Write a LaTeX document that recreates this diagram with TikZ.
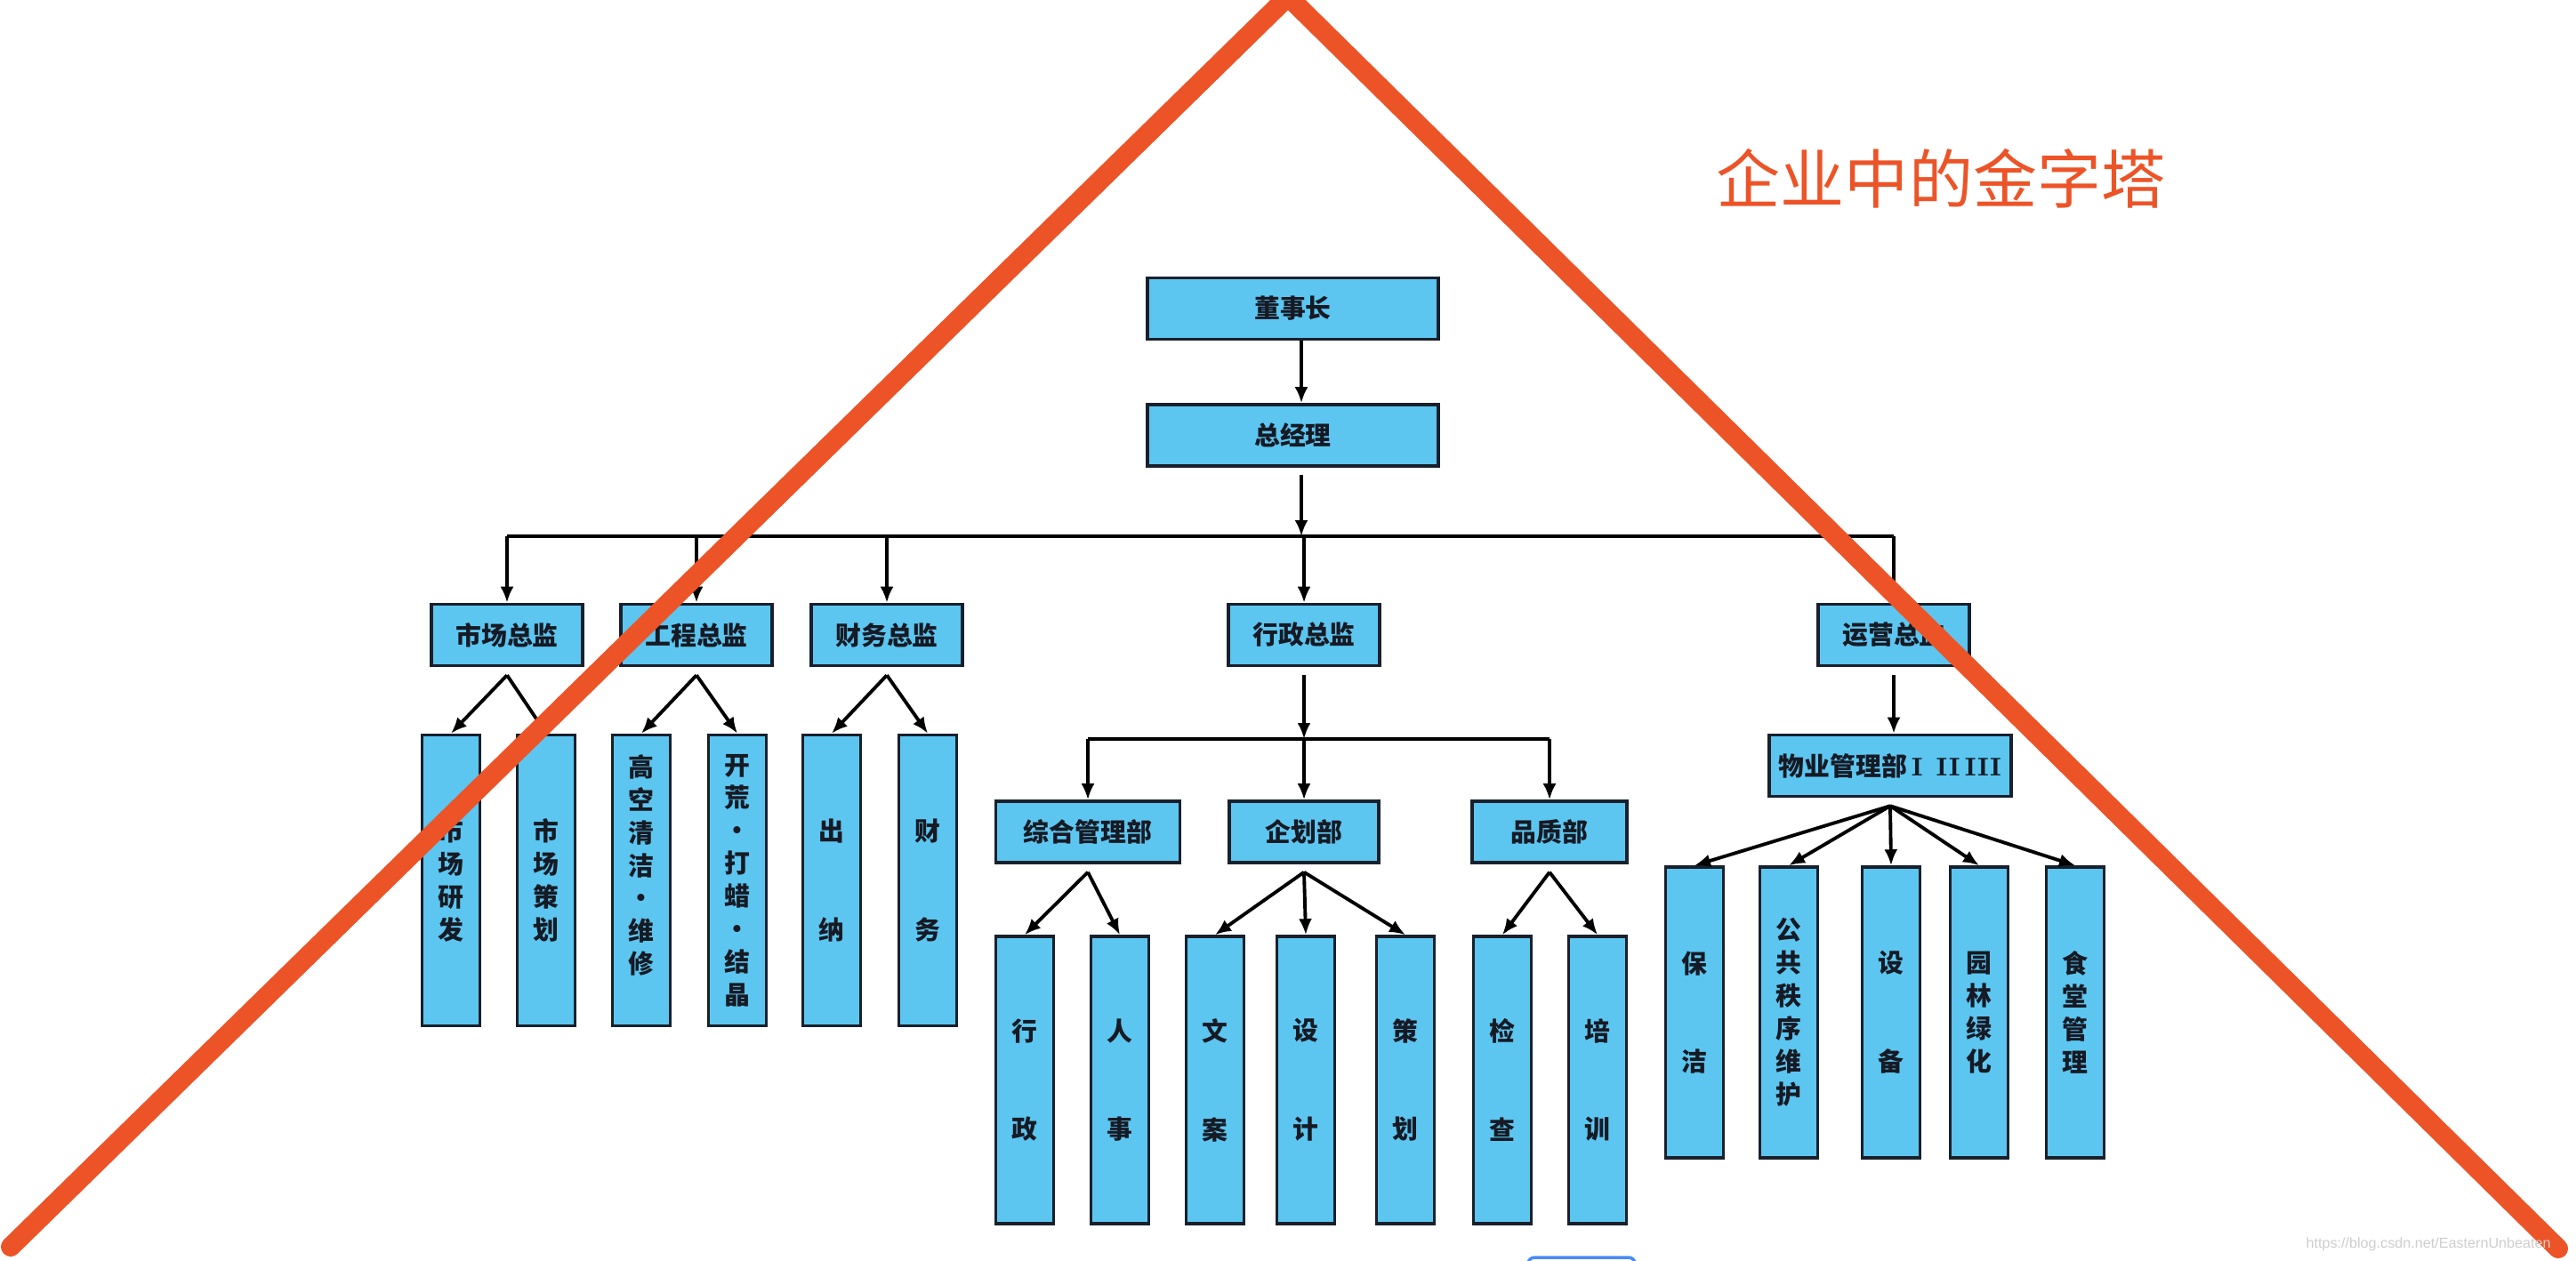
\documentclass[tikz,border=0pt]{standalone}
\usepackage{fontspec}
\usepackage{tikz}
\usetikzlibrary{arrows.meta, positioning, calc}
\newfontfamily\cjk{Noto Sans CJK SC}
\newfontfamily\wmfont{Liberation Sans}
\definecolor{orgbleu}{RGB}{92,198,240}
\definecolor{orgtrait}{RGB}{24,32,44}
\definecolor{orgtexte}{RGB}{22,26,36}
\definecolor{pyrrouge}{RGB}{236,84,40}
\definecolor{wmgris}{RGB}{205,205,205}
\definecolor{btnbleu}{RGB}{74,138,244}

\begin{document}
\begin{tikzpicture}[
  font=\cjk\bfseries\fontsize{8.2}{10.5}\selectfont,
  headbox/.style={rectangle, draw=orgtrait, fill=orgbleu, line width=1.0pt,
                  minimum width=1.70cm, minimum height=0.69cm, inner sep=0pt, text=orgtexte},
  colbox/.style={rectangle, draw=orgtrait, fill=orgbleu, line width=1.0pt,
                 minimum width=0.65cm, minimum height=3.27cm, inner sep=0pt,
                 align=center, text=orgtexte},
  arr/.style={-{Latex[length=1.8mm, width=1.5mm]}, line width=1.1pt, black},
  pyr/.style={line width=0.22cm, pyrrouge, line cap=round, line join=miter}]

  \useasboundingbox (0,0) rectangle (28.96,-14.18);

  % direction
  \node[headbox, minimum width=3.27cm] (chair) at (14.535,-3.47) {董事长};
  \node[headbox, minimum width=3.27cm] (gm) at (14.535,-4.895) {总经理};

  % directeurs
  \node[headbox] (mkt) at (5.70,-7.14) {市场总监};
  \node[headbox] (eng) at (7.83,-7.14) {工程总监};
  \node[headbox] (fin) at (9.97,-7.14) {财务总监};
  \node[headbox] (adm) at (14.66,-7.14) {行政总监};
  \node[headbox] (ops) at (21.29,-7.14) {运营总监};

  \node[colbox] (mktRes) at (5.07,-9.90) {市\\场\\研\\发};
  \node[colbox] (mktPlan) at (6.14,-9.90) {市\\场\\策\\划};
  \node[colbox] (engClean) at (7.21,-9.90) {高\\空\\清\\洁\\·\\维\\修\\~};
  \node[colbox] (engWax) at (8.29,-9.90) {开\\荒\\·\\打\\蜡\\·\\结\\晶};
  \node[colbox] (finCash) at (9.35,-9.90) {出\\[21pt]纳};
  \node[colbox] (finAcc) at (10.43,-9.90) {财\\[21pt]务};

  % services du pole administratif
  \node[headbox, minimum width=2.07cm] (gen) at (12.23,-9.355) {综合管理部};
  \node[headbox, minimum width=1.68cm] (plan) at (14.66,-9.355) {企划部};
  \node[headbox, minimum width=1.74cm] (qual) at (17.42,-9.355) {品质部};

  \node[colbox, minimum height=3.23cm] (genAdm) at (11.52,-12.145) {行\\[21pt]政};
  \node[colbox, minimum height=3.23cm] (genHr) at (12.59,-12.145) {人\\[21pt]事};
  \node[colbox, minimum height=3.23cm] (planCopy) at (13.66,-12.145) {文\\[21pt]案};
  \node[colbox, minimum height=3.23cm] (planDes) at (14.68,-12.145) {设\\[21pt]计};
  \node[colbox, minimum height=3.23cm] (planStrat) at (15.80,-12.145) {策\\[21pt]划};
  \node[colbox, minimum height=3.23cm] (qualChk) at (16.89,-12.145) {检\\[21pt]查};
  \node[colbox, minimum height=3.23cm] (qualTrain) at (17.96,-12.145) {培\\[21pt]训};

  % exploitation
  \node[headbox, minimum width=2.72cm] (prop) at (21.25,-8.61)
       {物业管理部\,{\rmfamily I\enspace II\,III}};
  \node[colbox] (propClean) at (19.05,-11.385) {保\\[21pt]洁};
  \node[colbox] (propOrder) at (20.11,-11.385) {公\\共\\秩\\序\\维\\护};
  \node[colbox] (propEquip) at (21.26,-11.385) {设\\[21pt]备};
  \node[colbox] (propGreen) at (22.25,-11.385) {园\\林\\绿\\化};
  \node[colbox] (propCanteen) at (23.33,-11.385) {食\\堂\\管\\理};

  % liaisons
  \coordinate (bus) at (14.63,-6.03);
  \coordinate (subbus) at (14.63,-8.31);
  \draw[arr] (chair.south -| bus) -- (gm.north -| bus);
  \draw[arr] ([yshift=-0.08cm]gm.south -| bus) -- (bus);
  \draw[line width=1.1pt] (mkt |- bus) -- (ops |- bus);
  \foreach \n in {mkt,eng,fin,adm,ops}
    \draw[arr] (\n |- bus) -- (\n.north);

  \draw[arr] ([yshift=-0.09cm]adm.south) -- (adm |- subbus);
  \draw[line width=1.1pt] (gen |- subbus) -- (qual |- subbus);
  \foreach \n in {gen,plan,qual}
    \draw[arr] (\n |- subbus) -- (\n.north);

  \draw[arr] ([yshift=-0.09cm]ops.south) -- (prop.north -| ops);

  \foreach \p/\c in {mkt/mktRes, mkt/mktPlan, eng/engClean, eng/engWax,
                     fin/finCash, fin/finAcc, gen/genAdm, gen/genHr,
                     plan/planCopy, plan/planDes, plan/planStrat,
                     qual/qualChk, qual/qualTrain,
                     prop/propClean, prop/propOrder, prop/propEquip,
                     prop/propGreen, prop/propCanteen}
    \draw[arr] ([yshift=-0.09cm]\p.south) -- (\c.north);

  % pyramide
  \draw[pyr] (0.12,-14.02) -- (14.48,0.04) -- (28.76,-14.04);
  \node[font=\cjk\fontsize{20.5}{24}\selectfont, text=pyrrouge] (title) at (21.82,-2.01) {企业中的金字塔};

  \node[font=\wmfont\fontsize{4.6}{5}\selectfont, text=wmgris, anchor=east] (wm)
       at (28.80,-13.99) {https://blog.csdn.net/EasternUnbeaten};
  \draw[btnbleu, line width=1pt, rounded corners=2pt] (17.18,-14.60) rectangle (18.38,-14.14);
\end{tikzpicture}
\end{document}
